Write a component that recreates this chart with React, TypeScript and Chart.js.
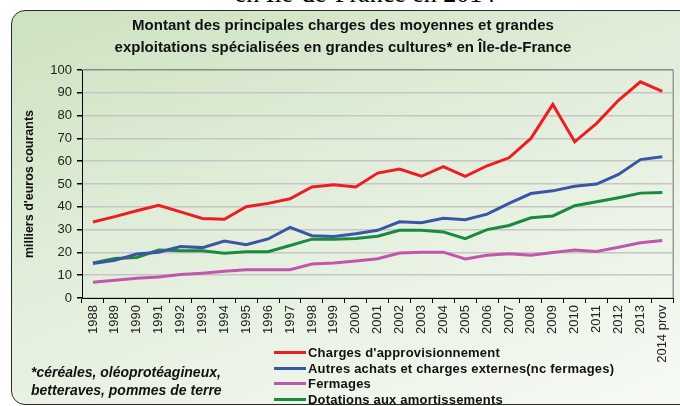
import React, { useEffect, useRef } from 'react';
import { Chart, registerables } from 'chart.js';

Chart.register(...registerables);

const years = ['1988', '1989', '1990', '1991', '1992', '1993', '1994', '1995', '1996', '1997', '1998', '1999', '2000', '2001', '2002', '2003', '2004', '2005', '2006', '2007', '2008', '2009', '2010', '2011', '2012', '2013', '2014 prov'];

const chargesAppro = [33.3, 35.7, 38.3, 40.7, 37.8, 34.9, 34.5, 40, 41.5, 43.5, 48.7, 49.7, 48.7, 54.8, 56.6, 53.4, 57.6, 53.4, 58, 61.5, 70, 84.9, 68.5, 76.6, 86.7, 94.8, 90.6];
const autresAchats = [15.1, 16.5, 19.3, 20.1, 22.6, 22.1, 25, 23.4, 25.9, 31, 27.3, 27, 28.2, 29.7, 33.4, 33, 35, 34.3, 36.8, 41.5, 45.8, 47, 49, 50, 54.2, 60.7, 62];
const fermages = [6.9, 7.8, 8.7, 9.2, 10.3, 10.9, 11.7, 12.4, 12.4, 12.4, 14.9, 15.3, 16.2, 17.2, 19.7, 20.1, 20.1, 17.1, 18.7, 19.4, 18.8, 20, 21, 20.4, 22.3, 24.2, 25.2];
const dotations = [15.4, 17.3, 17.8, 21, 20.7, 20.7, 19.6, 20.3, 20.3, 23, 25.8, 25.8, 26.1, 27.1, 29.7, 29.7, 29, 26, 30, 31.8, 35.2, 36, 40.5, 42.2, 44, 46, 46.3];

const seriesLabels = [
  "Charges d'approvisionnement",
  'Autres achats et charges externes(nc fermages)',
  'Fermages',
  'Dotations aux amortissements',
];
const seriesColors = ['#ee1c25', '#3b55a6', '#c157ac', '#1a8a3f'];
const seriesData = [chargesAppro, autresAchats, fermages, dotations];

const titleLines = [
  'Montant des principales charges des moyennes et grandes',
  'exploitations spécialisées en grandes cultures* en Île-de-France',
];
const yTitle = "milliers d'euros courants";
const footnoteLines = ['*céréales, oléoprotéagineux,', 'betteraves, pommes de terre'];
const captionTail = 'en Île-de-France en 2014';

const SANS = "'Liberation Sans', Arial, Helvetica, sans-serif";

const plotBorder = {
  id: 'plotBorder',
  beforeDatasetsDraw(chart: any) {
    const { ctx, chartArea } = chart;
    ctx.save();
    ctx.strokeStyle = '#9a9a9a';
    ctx.lineWidth = 1.5;
    ctx.beginPath();
    ctx.moveTo(chartArea.right, chartArea.top);
    ctx.lineTo(chartArea.right, chartArea.bottom);
    ctx.stroke();
    ctx.restore();
  },
};

export default function App() {
  const canvasRef = useRef<HTMLCanvasElement | null>(null);

  useEffect(() => {
    if (!canvasRef.current) return;
    const chart = new Chart(canvasRef.current, {
      type: 'line',
      data: {
        labels: years,
        datasets: seriesData.map((d, i) => ({
          label: seriesLabels[i],
          data: d,
          borderColor: seriesColors[i],
          backgroundColor: seriesColors[i],
          borderWidth: 3,
          pointRadius: 0,
          tension: 0,
          fill: false,
        })),
      },
      options: {
        animation: false,
        responsive: false,
        maintainAspectRatio: false,
        layout: { padding: { left: 0, right: 5, top: 0, bottom: 0 } },
        plugins: {
          legend: { display: false },
          tooltip: { enabled: false },
          title: {
            display: true,
            text: titleLines,
            color: '#111',
            font: { family: SANS, size: 15, weight: 'bold', lineHeight: 1.467 },
            padding: { top: 5, bottom: 11 },
          },
        },
        scales: {
          x: {
            type: 'category',
            offset: true,
            grid: {
              offset: true,
              drawOnChartArea: false,
              drawTicks: true,
              tickLength: 5,
              color: '#000',
              tickColor: '#000',
            },
            border: { display: true, color: '#000', width: 1 },
            ticks: {
              autoSkip: false,
              minRotation: 90,
              maxRotation: 90,
              padding: 2,
              color: '#222',
              font: { family: SANS, size: 13 },
            },
            afterFit(scale: any) {
              scale.height = 107;
            },
          },
          y: {
            min: 0,
            max: 100,
            ticks: {
              stepSize: 10,
              padding: 5,
              color: '#222',
              font: { family: SANS, size: 13 },
            },
            grid: {
              drawTicks: true,
              tickLength: 5,
              tickColor: '#000',
              lineWidth: 1.5,
              color: (c: any) => (c.tick && c.tick.value === 100 ? '#8a8a8a' : '#c6c6c6'),
            },
            border: { display: true, color: '#000', width: 1 },
            title: {
              display: true,
              text: yTitle,
              color: '#111',
              font: { family: SANS, size: 12.5, weight: 'bold', lineHeight: 1.2 },
              padding: { top: 11.5, bottom: 0 },
            },
            afterFit(scale: any) {
              scale.width = 71;
            },
          },
        },
      },
      plugins: [plotBorder],
    });
    return () => chart.destroy();
  }, []);

  return (
    <div
      style={{
        position: 'fixed',
        left: 0,
        top: 0,
        width: 680,
        height: 406,
        overflow: 'hidden',
        background: '#fff',
      }}
    >
      <div
        style={{
          position: 'absolute',
          left: 0,
          width: 730,
          top: -21,
          textAlign: 'center',
          fontFamily: "'Liberation Serif', 'Times New Roman', serif",
          fontSize: 26,
          lineHeight: '30px',
          color: '#000',
          whiteSpace: 'nowrap',
        }}
      >
        {captionTail}
      </div>
      <div
        style={{
          position: 'absolute',
          left: 11,
          top: 10,
          width: 690,
          height: 395,
          boxSizing: 'border-box',
          border: '1.5px solid #2b2b2b',
          borderRadius: 14,
          background: 'linear-gradient(160deg, #cce2c0 0%, #e2eedb 45%, #f6faf4 100%)',
        }}
      />
      <canvas
        ref={canvasRef}
        width={669}
        height={395}
        style={{ position: 'absolute', left: 11, top: 10, width: 669, height: 395 }}
      />
      <div
        style={{
          position: 'absolute',
          left: 274,
          top: 345,
          fontFamily: SANS,
          fontSize: 13,
          fontWeight: 'bold',
          letterSpacing: 0.2,
          color: '#111',
        }}
      >
        {seriesLabels.map((l, i) => (
          <div key={l} style={{ display: 'flex', alignItems: 'center', height: 15.5, whiteSpace: 'nowrap' }}>
            <span style={{ display: 'inline-block', width: 32, height: 3, background: seriesColors[i], marginRight: 2 }} />
            <span>{l}</span>
          </div>
        ))}
      </div>
      <div
        style={{
          position: 'absolute',
          left: 31,
          top: 363,
          fontFamily: SANS,
          fontSize: 14,
          fontWeight: 'bold',
          fontStyle: 'italic',
          lineHeight: '18px',
          color: '#111',
          whiteSpace: 'nowrap',
        }}
      >
        {footnoteLines.map((l) => (
          <div key={l}>{l}</div>
        ))}
      </div>
    </div>
  );
}
